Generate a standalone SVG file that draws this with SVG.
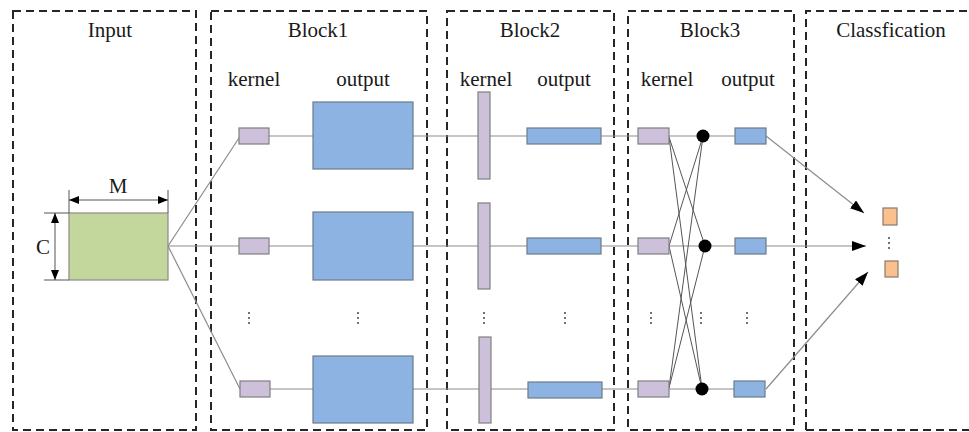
<svg xmlns="http://www.w3.org/2000/svg" width="969" height="432" viewBox="0 0 969 432">
  <style>
    .frame { fill: none; stroke: #262626; stroke-width: 2; stroke-dasharray: 8 5; }
    text { font-family: "Liberation Serif", "Times New Roman", "DejaVu Serif", serif; font-size: 21px; fill: #1a1a1a; text-anchor: middle; }
    .kern { fill: #ccc0da; stroke: #7f7f7f; stroke-width: 1.2; }
    .out { fill: #8db3e2; stroke: #6a7a8c; stroke-width: 1.2; }
    .inp { fill: #c3d69b; stroke: #8a8a8a; stroke-width: 1.2; }
    .cls { fill: #fac090; stroke: #8a7a6a; stroke-width: 1.2; }
    .wire { fill: none; stroke: #8c8c8c; stroke-width: 1.2; }
    .thin { fill: none; stroke: #555; stroke-width: 1; }
    .dot { fill: #000; }
    .vd { fill: #444; }
  </style>
  <defs>
    <marker id="arrow" viewBox="0 0 14 10" refX="14" refY="5" markerWidth="14" markerHeight="10" markerUnits="userSpaceOnUse" orient="auto">
      <path d="M0,0 L14,5 L0,10 Z" fill="#000"/>
    </marker>
    <marker id="dimhead" viewBox="0 0 10 8" refX="10" refY="4" markerWidth="10" markerHeight="8" markerUnits="userSpaceOnUse" orient="auto-start-reverse">
      <path d="M0,0 L10,4 L0,8 Z" fill="#000"/>
    </marker>
    <g id="vdots">
      <circle cx="0" cy="-5" r="1" class="vd"/>
      <circle cx="0" cy="0" r="1" class="vd"/>
      <circle cx="0" cy="5" r="1" class="vd"/>
    </g>
  </defs>

  <!-- stage frames -->
  <g id="frames">
    <rect class="frame" x="13" y="11" width="183" height="419"/>
    <rect class="frame" x="211" y="11" width="216" height="419"/>
    <rect class="frame" x="447" y="11" width="167" height="419"/>
    <rect class="frame" x="628" y="11" width="166" height="419"/>
    <path class="frame" d="M806,430 L806,11 L975,11 M806,430 L975,430"/>
  </g>

  <!-- stage titles and column labels -->
  <g id="labels">
    <text x="110" y="37">Input</text>
    <text x="318" y="37">Block1</text>
    <text x="530" y="37">Block2</text>
    <text x="710" y="37">Block3</text>
    <text x="891" y="37">Classfication</text>
    <text x="254" y="86">kernel</text>
    <text x="363" y="86">output</text>
    <text x="486" y="86">kernel</text>
    <text x="564" y="86">output</text>
    <text x="667" y="86">kernel</text>
    <text x="748" y="86">output</text>
  </g>

  <!-- connectors -->
  <g id="connectors">
    <!-- input fan-out -->
    <line class="wire" x1="168" y1="246" x2="239" y2="138"/>
    <line class="wire" x1="168" y1="246" x2="239" y2="246"/>
    <line class="wire" x1="168" y1="246" x2="240" y2="389"/>
    <!-- row chains -->
    <line class="wire" x1="269" y1="136" x2="638" y2="136"/>
    <line class="wire" x1="269" y1="246" x2="638" y2="246"/>
    <line class="wire" x1="270" y1="389" x2="638" y2="389"/>
    <!-- block3 kernel to node -->
    <line class="wire" x1="669" y1="136" x2="735" y2="136"/>
    <line class="wire" x1="669" y1="246" x2="735" y2="246"/>
    <line class="wire" x1="669" y1="389" x2="735" y2="389"/>
    <!-- block3 cross links -->
    <line class="thin" x1="669" y1="137" x2="705" y2="246"/>
    <line class="thin" x1="669" y1="137" x2="702" y2="389"/>
    <line class="thin" x1="669" y1="246" x2="703" y2="136"/>
    <line class="thin" x1="669" y1="246" x2="702" y2="389"/>
    <line class="thin" x1="669" y1="388" x2="703" y2="136"/>
    <line class="thin" x1="669" y1="388" x2="705" y2="246"/>
    <!-- to classifier -->
    <line class="wire" x1="766" y1="136" x2="864" y2="213" marker-end="url(#arrow)"/>
    <line class="wire" x1="766" y1="246" x2="866" y2="246" marker-end="url(#arrow)"/>
    <line class="wire" x1="766" y1="389" x2="868" y2="272" marker-end="url(#arrow)"/>
  </g>

  <!-- input tensor -->
  <g id="input">
    <rect class="inp" x="69" y="213" width="99" height="67"/>
    <line class="thin" x1="69" y1="190" x2="69" y2="213"/>
    <line class="thin" x1="168" y1="190" x2="168" y2="213"/>
    <line class="thin" x1="69" y1="200" x2="168" y2="200" marker-start="url(#dimhead)" marker-end="url(#dimhead)"/>
    <line class="thin" x1="44" y1="213" x2="69" y2="213"/>
    <line class="thin" x1="44" y1="280" x2="69" y2="280"/>
    <line class="thin" x1="55" y1="213" x2="55" y2="280" marker-start="url(#dimhead)" marker-end="url(#dimhead)"/>
    <text x="118" y="193">M</text>
    <text x="43" y="254">C</text>
  </g>

  <!-- block1 -->
  <g id="block1-kernels">
    <rect class="kern" x="239" y="128" width="30" height="16"/>
    <rect class="kern" x="239" y="238" width="30" height="16"/>
    <rect class="kern" x="240" y="381" width="30" height="16"/>
    <use href="#vdots" x="249" y="318"/>
  </g>
  <g id="block1-outputs">
    <rect class="out" x="313" y="102" width="100" height="67"/>
    <rect class="out" x="313" y="212" width="100" height="68"/>
    <rect class="out" x="313" y="356" width="100" height="67"/>
    <use href="#vdots" x="358" y="318"/>
  </g>

  <!-- block2 -->
  <g id="block2-kernels">
    <rect class="kern" x="478" y="92" width="12" height="87"/>
    <rect class="kern" x="478" y="203" width="12" height="86"/>
    <rect class="kern" x="479" y="337" width="12" height="86"/>
    <use href="#vdots" x="484" y="318"/>
  </g>
  <g id="block2-outputs">
    <rect class="out" x="527" y="128" width="74" height="16"/>
    <rect class="out" x="527" y="238" width="74" height="16"/>
    <rect class="out" x="528" y="382" width="74" height="16"/>
    <use href="#vdots" x="565" y="318"/>
  </g>

  <!-- block3 -->
  <g id="block3-kernels">
    <rect class="kern" x="638" y="128" width="31" height="16"/>
    <rect class="kern" x="638" y="238" width="31" height="16"/>
    <rect class="kern" x="638" y="381" width="31" height="16"/>
    <use href="#vdots" x="651" y="318"/>
  </g>
  <g id="block3-nodes">
    <circle class="dot" cx="703" cy="136" r="6.5"/>
    <circle class="dot" cx="705" cy="246" r="6.5"/>
    <circle class="dot" cx="702" cy="389" r="6.5"/>
    <use href="#vdots" x="701" y="318"/>
  </g>
  <g id="block3-outputs">
    <rect class="out" x="735" y="128" width="31" height="16"/>
    <rect class="out" x="735" y="238" width="31" height="16"/>
    <rect class="out" x="734" y="381" width="31" height="16"/>
    <use href="#vdots" x="747" y="318"/>
  </g>

  <!-- classifier outputs -->
  <g id="classes">
    <rect class="cls" x="883" y="208" width="14" height="17"/>
    <rect class="cls" x="885" y="261" width="13" height="16"/>
    <use href="#vdots" x="889" y="243"/>
  </g>
</svg>
